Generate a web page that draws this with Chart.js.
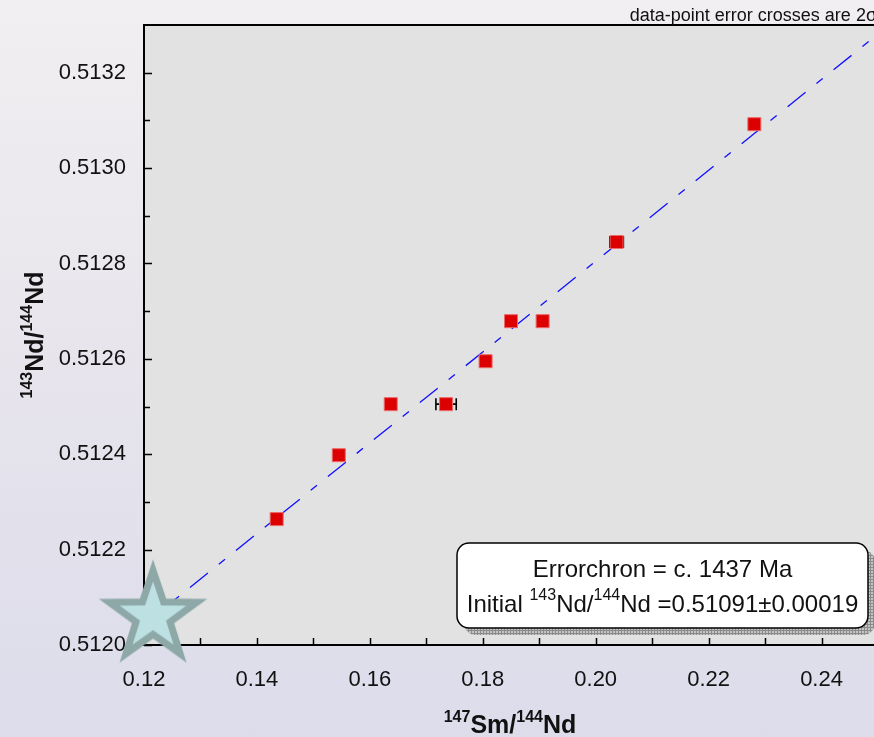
<!DOCTYPE html>
<html>
<head>
<meta charset="utf-8">
<script src="https://cdn.jsdelivr.net/npm/chart.js@4"></script>
<style>
  html, body { margin: 0; padding: 0; width: 874px; height: 737px; overflow: hidden;
    background: linear-gradient(to bottom, #f2eff2 0%, #e8e5ec 45%, #dcdceb 100%); }
  #wrap { position: absolute; left: 0; top: 0; width: 884px; height: 737px; }
</style>
</head>
<body>
<div id="wrap"><canvas id="c" width="884" height="737"></canvas></div>
<script>
// ---- data ----
const smNd = [0.1435, 0.1545, 0.1637, 0.1735, 0.1805, 0.1850, 0.1906, 0.2037, 0.2281];   // 147Sm/144Nd
const ndNd = [0.512264, 0.512398, 0.512505, 0.512505, 0.512595, 0.512679, 0.512679, 0.512845, 0.513092]; // 143Nd/144Nd
const smNdErr2s = [0.0008, 0.0008, 0.0008, 0.0018, 0.0008, 0.0008, 0.0008, 0.0012, 0.0008];
const ndNdErr2s = [0.000008, 0.000008, 0.000008, 0.000008, 0.000008, 0.000008, 0.000008, 0.000008, 0.000008];
const errorchronX = [0.12, 0.25];
const errorchronY = [0.512043, 0.513281];
const initialPointX = [0.1216];
const initialPointY = [0.51206];
const xTickLabels = [0.12, 0.14, 0.16, 0.18, 0.20, 0.22, 0.24];
const yTickLabels = [0.5120, 0.5122, 0.5124, 0.5126, 0.5128, 0.5130, 0.5132];
const noteText = 'data-point error crosses are 2\u03c3';
const boxLine1 = 'Errorchron = c. 1437 Ma';
const boxLine2 = [{t:'Initial '}, {t:'143', sup:true}, {t:'Nd/'}, {t:'144', sup:true}, {t:'Nd =0.51091\u00b10.00019'}];
const xTitle = [{t:'147', sup:true}, {t:'Sm/'}, {t:'144', sup:true}, {t:'Nd'}];
const yTitle = [{t:'143', sup:true}, {t:'Nd/'}, {t:'144', sup:true}, {t:'Nd'}];

const FONT = '"Liberation Sans", Arial, sans-serif';

// star point style image
function makeStar() {
  const c = document.createElement('canvas');
  c.width = 130; c.height = 130;
  const g = c.getContext('2d');
  const cx = 65, cy = 65, R = 46, r = 46 * 0.39;
  g.beginPath();
  for (let i = 0; i < 10; i++) {
    const a = -Math.PI / 2 + i * Math.PI / 5;
    const rr = i % 2 === 0 ? R : r;
    const x = cx + rr * Math.cos(a), y = cy + rr * Math.sin(a);
    if (i === 0) g.moveTo(x, y); else g.lineTo(x, y);
  }
  g.closePath();
  g.fillStyle = '#bde0e3';
  g.fill();
  g.lineJoin = 'miter';
  g.miterLimit = 10;
  g.lineWidth = 7;
  g.strokeStyle = '#8ea8a8';
  g.stroke();
  return c;
}

function isIn(list, v, eps) { return list.some(t => Math.abs(t - v) < eps); }

function richWidth(ctx, parts, mainFont, supFont) {
  let w = 0;
  for (const p of parts) { ctx.font = p.sup ? supFont : mainFont; w += ctx.measureText(p.t).width; }
  return w;
}
function drawRich(ctx, parts, x, y, mainFont, supFont, rise) {
  let cx = x;
  ctx.textAlign = 'left';
  ctx.textBaseline = 'alphabetic';
  for (const p of parts) {
    ctx.font = p.sup ? supFont : mainFont;
    ctx.fillText(p.t, cx, p.sup ? y - rise : y);
    cx += ctx.measureText(p.t).width;
  }
}

const decor = {
  id: 'decor',
  beforeDraw(chart) {
    const {ctx, chartArea: a} = chart;
    ctx.save();
    ctx.fillStyle = '#e2e2e2';
    ctx.fillRect(a.left, a.top, a.right - a.left, a.bottom - a.top);
    ctx.restore();
  },
  beforeDatasetsDraw(chart) {
    const {ctx, chartArea: a, scales: {x, y}} = chart;
    ctx.save();
    // error crosses
    ctx.strokeStyle = '#000';
    ctx.lineWidth = 1.6;
    for (let i = 0; i < smNd.length; i++) {
      const px = x.getPixelForValue(smNd[i]), py = y.getPixelForValue(ndNd[i]);
      const x0 = x.getPixelForValue(smNd[i] - smNdErr2s[i]), x1 = x.getPixelForValue(smNd[i] + smNdErr2s[i]);
      const y0 = y.getPixelForValue(ndNd[i] - ndNdErr2s[i]), y1 = y.getPixelForValue(ndNd[i] + ndNdErr2s[i]);
      ctx.beginPath();
      ctx.moveTo(x0, py); ctx.lineTo(x1, py);
      ctx.moveTo(x0, py - 6); ctx.lineTo(x0, py + 6);
      ctx.moveTo(x1, py - 6); ctx.lineTo(x1, py + 6);
      ctx.moveTo(px, y0); ctx.lineTo(px, y1);
      ctx.stroke();
    }
    // tick marks (inward)
    ctx.lineWidth = 1.5;
    ctx.beginPath();
    for (const t of x.ticks) {
      const px = Math.round(x.getPixelForValue(t.value)) + 0.5;
      if (px > a.right - 1) continue;
      ctx.moveTo(px, a.bottom); ctx.lineTo(px, a.bottom - 7);
    }
    for (const t of y.ticks) {
      const py = Math.round(y.getPixelForValue(t.value)) + 0.5;
      if (py < a.top + 1) continue;
      const major = isIn(yTickLabels, t.value, 1e-8);
      ctx.moveTo(a.left, py); ctx.lineTo(a.left + (major ? 8 : 6), py);
    }
    ctx.stroke();
    // frame: left, bottom, top
    ctx.lineWidth = 2;
    ctx.beginPath();
    ctx.moveTo(a.right + 2, a.top); ctx.lineTo(a.left, a.top);
    ctx.lineTo(a.left, a.bottom); ctx.lineTo(a.right + 2, a.bottom);
    ctx.stroke();
    ctx.restore();
  },
  afterDraw(chart) {
    const {ctx, chartArea: a} = chart;
    ctx.save();
    // axis titles
    ctx.fillStyle = '#111';
    const mainB = 'bold 25px ' + FONT, supB = 'bold 16px ' + FONT;
    let w = richWidth(ctx, xTitle, mainB, supB);
    drawRich(ctx, xTitle, 510 - w / 2, 733, mainB, supB, 11);
    w = richWidth(ctx, yTitle, mainB, supB);
    ctx.translate(43, (a.top + a.bottom) / 2);
    ctx.rotate(-Math.PI / 2);
    drawRich(ctx, yTitle, -w / 2, 0, mainB, supB, 11);
    ctx.restore();

    // note at top
    ctx.save();
    ctx.fillStyle = '#111';
    ctx.font = '18px ' + FONT;
    ctx.textAlign = 'right';
    ctx.textBaseline = 'alphabetic';
    ctx.fillText(noteText, 877, 21);
    ctx.restore();

    // annotation box with hatched shadow
    ctx.save();
    const bx = 457, by = 543, bw = 411, bh = 85, rad = 12;
    const pc = document.createElement('canvas'); pc.width = 3; pc.height = 3;
    const pg = pc.getContext('2d');
    pg.fillStyle = '#c4c4c4'; pg.fillRect(0, 0, 3, 3);
    pg.fillStyle = '#8a8a8a'; pg.fillRect(0, 0, 3, 1); pg.fillRect(0, 0, 1, 3);
    ctx.fillStyle = ctx.createPattern(pc, 'repeat');
    ctx.beginPath(); ctx.roundRect(bx + 7, by + 7, bw, bh, rad); ctx.fill();
    ctx.beginPath(); ctx.roundRect(bx, by, bw, bh, rad);
    ctx.fillStyle = '#ffffff'; ctx.fill();
    ctx.lineWidth = 1.5; ctx.strokeStyle = '#000'; ctx.stroke();
    ctx.fillStyle = '#111';
    ctx.font = '24px ' + FONT;
    ctx.textAlign = 'center';
    ctx.textBaseline = 'alphabetic';
    ctx.fillText(boxLine1, bx + bw / 2, 577);
    const m = '24px ' + FONT, s = '16px ' + FONT;
    w = richWidth(ctx, boxLine2, m, s);
    drawRich(ctx, boxLine2, bx + bw / 2 - w / 2, 612, m, s, 12.5);
    ctx.restore();
  }
};

new Chart(document.getElementById('c'), {
  type: 'scatter',
  data: {
    datasets: [
      {
        label: 'initial',
        data: initialPointX.map((v, i) => ({x: v, y: initialPointY[i]})),
        pointStyle: makeStar(),
        pointRadius: 30,
        clip: false,
        order: 0
      },
      {
        label: 'samples',
        data: smNd.map((v, i) => ({x: v, y: ndNd[i]})),
        pointStyle: 'rect',
        pointRadius: 9.2,
        backgroundColor: '#dd0000',
        borderColor: '#ec6a6a',
        borderWidth: 1,
        order: 1
      },
      {
        label: 'errorchron',
        data: errorchronX.map((v, i) => ({x: v, y: errorchronY[i]})),
        showLine: true,
        pointRadius: 0,
        borderColor: '#1010ff',
        borderWidth: 1.3,
        borderDash: [23, 14, 8, 14],
        order: 2
      }
    ]
  },
  options: {
    responsive: false,
    devicePixelRatio: 1,
    animation: false,
    events: [],
    layout: { autoPadding: false, padding: { top: 25, right: 6, left: 0, bottom: 0 } },
    plugins: { legend: { display: false }, tooltip: { enabled: false } },
    scales: {
      x: {
        type: 'linear', min: 0.12, max: 0.25,
        afterFit(s) { s.height = 92; s.paddingLeft = 0; s.paddingRight = 0; },
        grid: { display: false, drawTicks: false },
        border: { display: false },
        ticks: {
          stepSize: 0.01, autoSkip: false, maxRotation: 0, padding: 22,
          color: '#111', font: { family: FONT, size: 22 },
          callback: v => isIn(xTickLabels, v, 1e-6) ? v.toFixed(2) : ''
        }
      },
      y: {
        type: 'linear', min: 0.5120, max: 0.5133,
        afterFit(s) { s.width = 144; s.paddingTop = 0; s.paddingBottom = 0; },
        grid: { display: false, drawTicks: false },
        border: { display: false },
        ticks: {
          stepSize: 0.0001, autoSkip: false, padding: 18,
          color: '#111', font: { family: FONT, size: 22 },
          callback: v => isIn(yTickLabels, v, 1e-8) ? v.toFixed(4) : ''
        }
      }
    }
  },
  plugins: [decor]
});
</script>
</body>
</html>
